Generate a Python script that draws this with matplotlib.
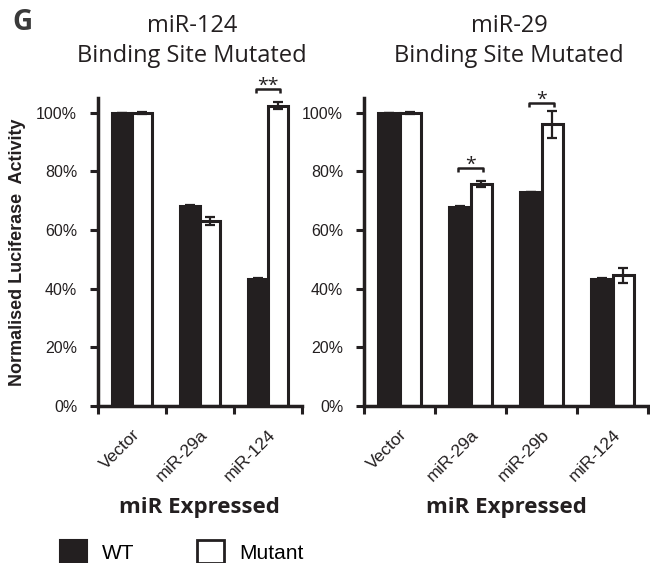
import matplotlib
matplotlib.use("Agg")
import matplotlib.pyplot as plt
from matplotlib.patches import Patch
from matplotlib.ticker import FuncFormatter
import numpy as np

plt.rcParams["font.family"] = ["Liberation Sans", "DejaVu Sans"]

INK = "#231f20"
HEAD_FONT = ["Open Sans", "DejaVu Sans"]

# miR-124 binding site mutated reporter
left_groups = ["Vector", "miR-29a", "miR-124"]
left_wt = [100, 68.2, 43.3]
left_wt_err = [0, 0.4, 0.3]
left_mut = [100, 63.0, 102.4]
left_mut_err = [0.3, 1.3, 1.3]
left_sig = [(2, 108.2, "**")]

# miR-29 binding site mutated reporter
right_groups = ["Vector", "miR-29a", "miR-29b", "miR-124"]
right_wt = [100, 68.0, 73.0, 43.2]
right_wt_err = [0, 0.3, 0, 0.3]
right_mut = [100, 75.7, 96.1, 44.5]
right_mut_err = [0.3, 1.1, 4.6, 2.4]
right_sig = [(1, 81.2, "*"), (2, 103.4, "*")]

y_ticks = [0, 20, 40, 60, 80, 100]


def draw_panel(ax, groups, wt, wt_err, mut, mut_err, sig):
    x = np.arange(len(groups))
    w = 0.3
    ax.bar(x - w / 2, wt, w, color=INK, edgecolor=INK, linewidth=2.2, zorder=2)
    ax.bar(x + w / 2, mut, w, color="white", edgecolor=INK, linewidth=2.2, zorder=2)
    ax.errorbar(x - w / 2, wt, yerr=wt_err, fmt="none", ecolor=INK,
                elinewidth=1.6, capsize=3.4, capthick=1.6, zorder=3)
    ax.errorbar(x + w / 2, mut, yerr=mut_err, fmt="none", ecolor=INK,
                elinewidth=1.6, capsize=3.4, capthick=1.6, zorder=3)

    # significance brackets between WT and mutant
    for i, y, label in sig:
        ax.plot([i - 0.17, i - 0.17, i + 0.17, i + 0.17], [y - 1.4, y, y, y - 1.4],
                color=INK, lw=1.8, clip_on=False, solid_capstyle="butt")
        ax.text(i, y - 0.8, label, ha="center", va="baseline", fontsize=14,
                family=HEAD_FONT, color=INK)

    ax.set_xlim(-0.5, len(groups) - 0.5)
    ax.set_ylim(0, 105)
    ax.set_yticks(y_ticks)
    ax.yaxis.set_major_formatter(FuncFormatter(lambda v, _: f"{v:.0f}%"))
    ax.tick_params(axis="y", direction="out", length=6, width=2.2, pad=9,
                   labelsize=11.5, colors=INK)

    ax.set_xticks(x, groups, rotation=45, ha="right", rotation_mode="anchor")
    ax.set_xticks(np.arange(len(groups) + 1) - 0.5, minor=True)
    ax.tick_params(axis="x", which="major", length=0, pad=15, labelsize=12.5,
                   labelcolor=INK)
    ax.tick_params(axis="x", which="minor", direction="out", length=6, width=2.2,
                   color=INK)

    for side in ("top", "right"):
        ax.spines[side].set_visible(False)
    for side in ("left", "bottom"):
        ax.spines[side].set_linewidth(2.5)
        ax.spines[side].set_color(INK)


fig = plt.figure(figsize=(6.5, 5.63), dpi=100)
ax1 = fig.add_axes([98 / 650, 157 / 563, 204 / 650, 308 / 563])
ax2 = fig.add_axes([364 / 650, 157 / 563, 284 / 650, 308 / 563])

draw_panel(ax1, left_groups, left_wt, left_wt_err, left_mut, left_mut_err, left_sig)
draw_panel(ax2, right_groups, right_wt, right_wt_err, right_mut, right_mut_err, right_sig)

ax1.set_ylabel("Normalised Luciferase  Activity", fontweight="bold", fontsize=13,
               color=INK)
ax1.yaxis.set_label_coords(-0.353, 0.5)

# panel headers
fig.text(12 / 650, 1 - 30 / 563, "G", fontsize=20, fontweight="bold",
         family=HEAD_FONT, color="#3a3a3a", va="baseline")
for cx, line1 in ((192, "miR-124"), (509, "miR-29")):
    fig.text(cx / 650, 1 - 32 / 563, line1, ha="center", va="baseline",
             fontsize=17, family=HEAD_FONT, color=INK)
    fig.text(cx / 650, 1 - 62 / 563, "Binding Site Mutated", ha="center",
             va="baseline", fontsize=17, family=HEAD_FONT, color=INK)

for cx in (199, 506):
    fig.text(cx / 650, 1 - 513 / 563, "miR Expressed", ha="center", va="baseline",
             fontsize=16, fontweight="bold", family=HEAD_FONT, color=INK)

handles = [
    Patch(facecolor=INK, edgecolor=INK, linewidth=1.5, label="WT"),
    Patch(facecolor="white", edgecolor=INK, linewidth=2.0, label="Mutant"),
]
fig.legend(handles=handles, loc="lower left", bbox_to_anchor=(60 / 650, 0.0),
           ncol=2, frameon=False, fontsize=15, handlelength=1.3, handleheight=1.3,
           handletextpad=0.72, columnspacing=3.0, borderpad=0, borderaxespad=0)

fig.savefig("out.png", dpi=100)
